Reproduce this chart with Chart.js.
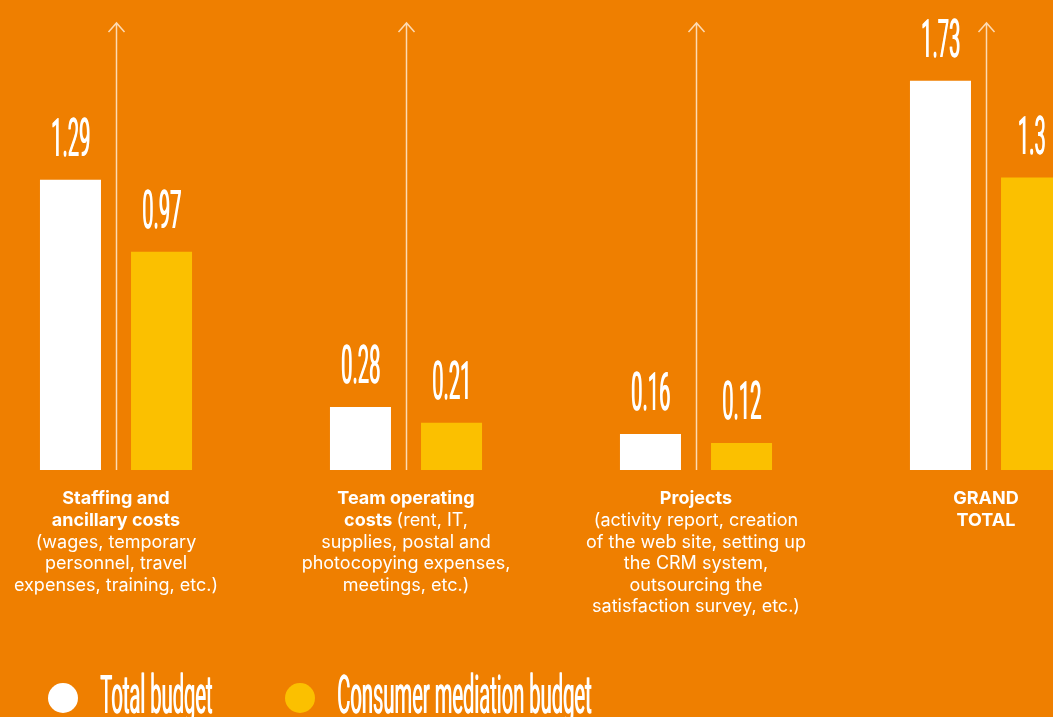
<!DOCTYPE html>
<html>
<head>
<meta charset="utf-8">
<script src="https://cdn.jsdelivr.net/npm/chart.js@4"></script>
<style>
  html, body { margin: 0; padding: 0; background: #ef7f00; overflow: hidden; }
  #wrap { position: absolute; left: -29px; top: 0; width: 1160px; height: 717px; }
</style>
</head>
<body>
<div id="wrap"><canvas id="chart" width="1160" height="717"></canvas></div>
<script>
// ========== DATA ==========
const categories = ['Staffing', 'Team operating', 'Projects', 'Grand total'];
const totalBudget = [1.29, 0.28, 0.16, 1.73];
const mediationBudget = [0.97, 0.21, 0.12, 1.3];
const seriesNames = ['Total budget', 'Consumer mediation budget'];

// each line is a list of [text, bold] pieces
const categoryLines = [
  [[['Staffing and', true]], [['ancillary costs', true]], [['(wages, temporary', false]],
   [['personnel, travel', false]], [['expenses, training, etc.)', false]]],
  [[['Team operating', true]], [['costs ', true], ['(rent, IT,', false]], [['supplies, postal and', false]],
   [['photocopying expenses,', false]], [['meetings, etc.)', false]]],
  [[['Projects', true]], [['(activity report, creation', false]], [['of the web site, setting up', false]],
   [['the CRM system,', false]], [['outsourcing the', false]], [['satisfaction survey, etc.)', false]]],
  [[['GRAND', true]], [['TOTAL', true]]]
];

const YELLOW = '#fbc000';
const WHITE = '#ffffff';
const SHIFT = 29; // canvas starts 29px left of the page

// condensed numbers: squeeze a normal font horizontally
function condensedText(ctx, text, x, y, align) {
  ctx.save();
  ctx.font = '400 53px Roboto';
  const sx = 0.38;
  const w = ctx.measureText(text).width * sx;
  let left = x;
  if (align === 'center') left = x - w / 2;
  ctx.translate(left, y);
  ctx.scale(sx, 1);
  ctx.textAlign = 'left';
  ctx.textBaseline = 'alphabetic';
  ctx.fillText(text, 0, 0);
  ctx.fillText(text, 0.6 / sx, 0);
  ctx.restore();
}

function labelFont(bold) {
  return (bold ? '700 ' : '400 ') + '18px Inter';
}

const decorPlugin = {
  id: 'decor',
  beforeDatasetsDraw(chart) {
    const ctx = chart.ctx;
    const xs = chart.scales.x;
    const base = chart.scales.y.getPixelForValue(0);
    ctx.save();
    ctx.strokeStyle = 'rgba(255,235,210,0.85)';
    ctx.lineWidth = 1.5;
    categories.forEach((c, i) => {
      const x = Math.round(xs.getPixelForValue(i)) + 0.5;
      ctx.beginPath();
      ctx.moveTo(x, base);
      ctx.lineTo(x, 23);
      ctx.moveTo(x - 8, 32);
      ctx.lineTo(x, 23);
      ctx.lineTo(x + 8, 32);
      ctx.stroke();
    });
    ctx.restore();
  },
  afterDatasetsDraw(chart) {
    const ctx = chart.ctx;
    ctx.fillStyle = WHITE;
    // value labels
    chart.data.datasets.forEach((ds, di) => {
      const meta = chart.getDatasetMeta(di);
      meta.data.forEach((bar, i) => {
        condensedText(ctx, String(ds.data[i]), bar.x, bar.y - 24, 'center');
      });
    });

    // category labels
    const xs = chart.scales.x;
    ctx.save();
    ctx.textBaseline = 'middle';
    ctx.fillStyle = WHITE;
    categoryLines.forEach((lines, i) => {
      const cx = xs.getPixelForValue(i);
      lines.forEach((pieces, li) => {
        const y = 499 + li * 21.6;
        let total = 0;
        pieces.forEach(p => {
          ctx.font = labelFont(p[1]);
          total += ctx.measureText(p[0]).width;
        });
        let x = cx - total / 2;
        pieces.forEach(p => {
          ctx.font = labelFont(p[1]);
          ctx.textAlign = 'left';
          ctx.fillText(p[0], x, y);
          x += ctx.measureText(p[0]).width;
        });
      });
    });
    ctx.restore();

    // legend
    const legendX = [63, 300];
    chart.data.datasets.forEach((ds, di) => {
      const cx = legendX[di] + SHIFT;
      ctx.save();
      ctx.fillStyle = ds.backgroundColor;
      ctx.beginPath();
      ctx.arc(cx, 698, 15, 0, Math.PI * 2);
      ctx.fill();
      ctx.fillStyle = WHITE;
      condensedText(ctx, ds.label, cx + 37, 713, 'left');
      ctx.restore();
    });
  }
};

new Chart(document.getElementById('chart'), {
  type: 'bar',
  data: {
    labels: categories,
    datasets: [
      { label: seriesNames[0], data: totalBudget, backgroundColor: WHITE },
      { label: seriesNames[1], data: mediationBudget, backgroundColor: YELLOW }
    ]
  },
  options: {
    responsive: false,
    animation: false,
    events: [],
    layout: { padding: { top: 20, bottom: 247, left: 0, right: 0 } },
    datasets: { bar: { categoryPercentage: 0.628, barPercentage: 0.67, borderWidth: 0 } },
    scales: {
      x: { display: false },
      y: { display: false, min: 0, max: 2 }
    },
    plugins: {
      legend: { display: false },
      tooltip: { enabled: false }
    }
  },
  plugins: [decorPlugin]
});
</script>
</body>
</html>
